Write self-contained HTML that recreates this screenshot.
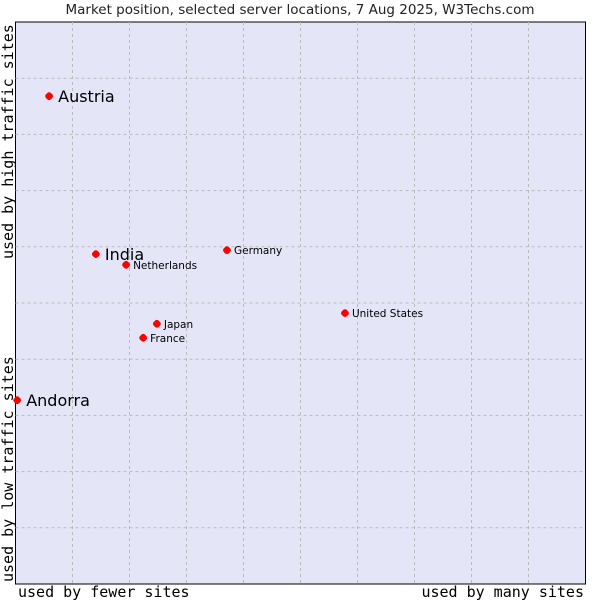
<!DOCTYPE html>
<html><head><meta charset="utf-8"><style>
body{margin:0;background:#fff;width:600px;height:600px;overflow:hidden}
svg{display:block}
</style></head><body>
<svg width="600" height="600" xmlns="http://www.w3.org/2000/svg">
<text x="300" y="14" text-anchor="middle" font-family="DejaVu Sans, sans-serif" font-size="13.5" fill="#222">Market position, selected server locations, 7 Aug 2025, W3Techs.com</text>
<rect x="15.5" y="22" width="570" height="562" fill="#e4e6f8" stroke="#000" stroke-width="1"/>
<g id="grid"></g>
<g id="pts"></g>
<text x="18" y="597" font-family="DejaVu Sans Mono, monospace" font-size="15" fill="#000">used by fewer sites</text>
<text x="584" y="597" text-anchor="end" font-family="DejaVu Sans Mono, monospace" font-size="15" fill="#000">used by many sites</text>
<text transform="translate(13,582) rotate(-90)" font-family="DejaVu Sans Mono, monospace" font-size="15" fill="#000">used by low traffic sites</text>
<text transform="translate(13,259) rotate(-90)" font-family="DejaVu Sans Mono, monospace" font-size="15" fill="#000">used by high traffic sites</text>
</svg>
<script>
const names = ["Austria","India","Netherlands","Germany","United States","Japan","France","Andorra"];
const xVals = [0.059,0.141,0.194,0.371,0.578,0.248,0.224,0.003];
const yVals = [0.868,0.587,0.568,0.594,0.482,0.463,0.438,0.327];
const bigLabel = [true,true,false,false,false,false,false,true];
const X0=15.5,X1=585.5,Y0=584,Y1=22;
const sx=v=>X0+v*(X1-X0), sy=v=>Y0-v*(Y0-Y1);
const NS="http://www.w3.org/2000/svg";
const grid=document.getElementById('grid');
for(let i=1;i<10;i++){
  const v=document.createElementNS(NS,'line');
  
  
  v.setAttribute('x1',sx(i/10));v.setAttribute('x2',sx(i/10));v.setAttribute('y1',Y1);v.setAttribute('y2',Y0);
  v.setAttribute('stroke','#bbb');v.setAttribute('stroke-dasharray','3,3');grid.appendChild(v);
  const h=document.createElementNS(NS,'line');
  
  
  h.setAttribute('y1',sy(i/10));h.setAttribute('y2',sy(i/10));h.setAttribute('x1',X0);h.setAttribute('x2',X1);
  h.setAttribute('stroke','#bbb');h.setAttribute('stroke-dasharray','3,3');grid.appendChild(h);
}
const pts=document.getElementById('pts');
names.forEach((n,i)=>{
  const x=sx(xVals[i]),y=sy(yVals[i]);
  const d=document.createElementNS(NS,'rect');
  
  
  d.setAttribute('x',x-3.5);d.setAttribute('y',y-3.5);d.setAttribute('width',7);d.setAttribute('height',7);
  d.setAttribute('rx',2.5);d.setAttribute('fill','#f00');
  d.setAttribute('transform',`rotate(45 ${x} ${y})`);
  pts.appendChild(d);
  const t=document.createElementNS(NS,'text');
  
  
  const big=bigLabel[i];
  t.setAttribute('x',x+(big?9:7));t.setAttribute('y',y+(big?6:4));
  t.setAttribute('font-family','DejaVu Sans, sans-serif');
  t.setAttribute('font-size',big?16:10.5);t.setAttribute('fill','#000');
  t.textContent=n;pts.appendChild(t);
});
</script>
</body></html>
